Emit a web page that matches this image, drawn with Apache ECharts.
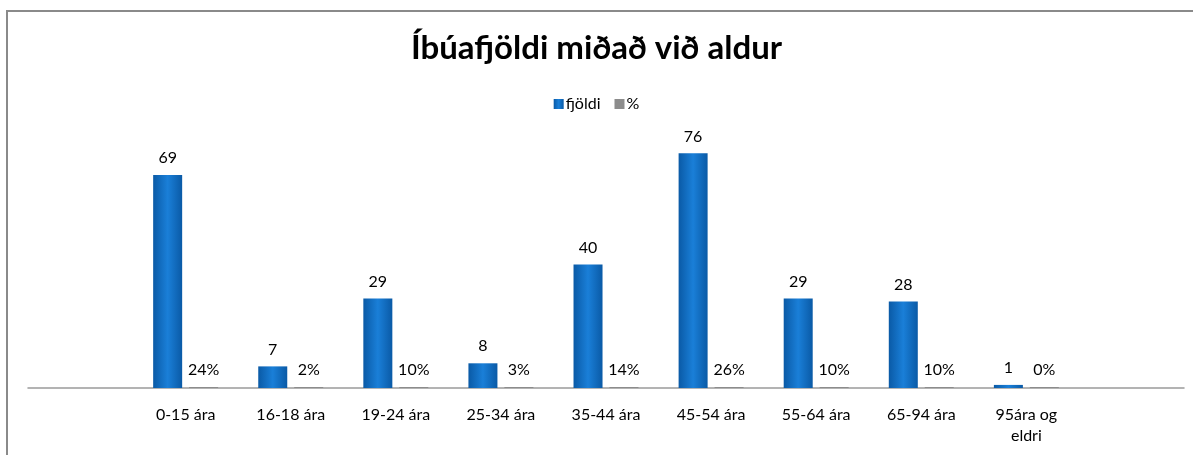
<!DOCTYPE html>
<html>
<head>
<meta charset="utf-8">
<script src="https://cdn.jsdelivr.net/npm/echarts@6/dist/echarts.min.js"></script>
<style>
  html, body { margin: 0; padding: 0; background: #fff; }
  #chart { width: 1193px; height: 455px; }
</style>
</head>
<body>
<div id="chart"></div>
<script>
// empty first/last slots, like the source chart leaves
var categories = ['', '0-15 ára', '16-18 ára', '19-24 ára', '25-34 ára', '35-44 ára', '45-54 ára', '55-64 ára', '65-94 ára', '95ára og\neldri', '']
var fjoldi = [null, 69, 7, 29, 8, 40, 76, 29, 28, 1, null]
var prosent = [null, 24, 2, 10, 3, 14, 26, 10, 10, 0, null]

var font = 'Lato'
var chart = echarts.init(document.getElementById('chart'))

var blue = new echarts.graphic.LinearGradient(0, 0, 1, 0, [
  { offset: 0, color: '#0a5aa6' },
  { offset: 0.5, color: '#1a7fd8' },
  { offset: 1, color: '#0a5aa6' }
])

var option = {
  backgroundColor: '#fff',
  animation: false,
  textStyle: { fontFamily: font },
  title: {
    text: 'Íbúafjöldi miðað við aldur',
    left: 'center',
    top: 27,
    textStyle: { fontFamily: font, fontSize: 33, fontWeight: 'bold', color: '#000' }
  },
  legend: {
    top: 91,
    left: 'center',
    itemWidth: 10,
    itemHeight: 10,
    itemGap: 14,
    icon: 'rect',
    textStyle: { fontFamily: font, fontSize: 16, color: '#000', padding: [0, 0, 0, -3] },
    data: ['fjöldi', '%']
  },
  grid: { left: 28, right: 9, top: 141, bottom: 67 },
  xAxis: {
    type: 'category',
    data: categories,
    axisLine: { lineStyle: { color: '#9a9a9a', width: 1.5 } },
    axisTick: { show: false },
    axisLabel: { fontFamily: font, fontSize: 16, color: '#000', margin: 16, lineHeight: 21, interval: 0 }
  },
  yAxis: {
    type: 'value',
    min: 0,
    max: 80,
    show: false
  },
  graphic: [{
    type: 'rect',
    shape: { x: 7, y: 11, width: 1300, height: 500 },
    style: { fill: null, stroke: '#8a8a8a', lineWidth: 2 },
    silent: true
  }],
  series: [
    {
      name: 'fjöldi',
      type: 'bar',
      data: fjoldi,
      barWidth: 29,
      barGap: '24%',
      itemStyle: { color: blue },
      label: {
        show: true,
        position: 'top',
        distance: 9,
        fontFamily: font,
        fontSize: 16,
        color: '#000'
      }
    },
    {
      name: '%',
      type: 'bar',
      data: prosent.map(function (v) { return v == null ? null : v / 100 }),
      barWidth: 29,
      barMinHeight: 1,
      itemStyle: { color: '#8c8c8c' },
      label: {
        show: true,
        position: 'top',
        distance: 9,
        fontFamily: font,
        fontSize: 16,
        color: '#000',
        formatter: function (p) { return Math.round(p.value * 100) + '%' }
      }
    }
  ]
}

chart.setOption(option)
</script>
</body>
</html>
